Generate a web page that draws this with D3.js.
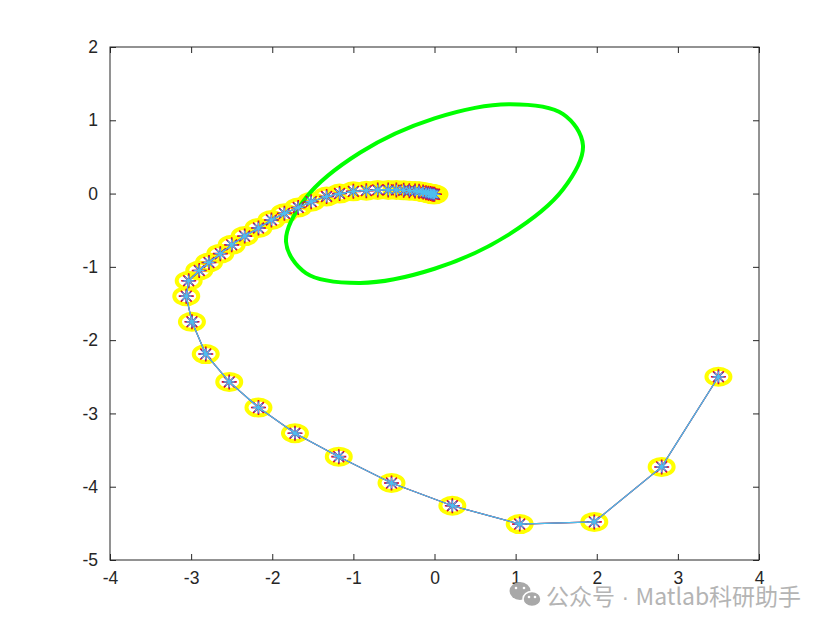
<!DOCTYPE html>
<html>
<head>
  <meta charset="utf-8">
  <title>spiral</title>
  <style>
    body { margin: 0; background: #fff; overflow: hidden; }
    .wm { font-family: "Noto Sans CJK SC", sans-serif; font-size: 23px; fill: #b4b4b4; }
  </style>
</head>
<body>
  <svg id="chart" width="840" height="630"></svg>
  <script src="https://d3js.org/d3.v7.min.js"></script>
  <script>
  // trajectory (outer end first, spiralling in to the origin)
  var trajX = [3.50, 2.80, 1.97, 1.05, 0.22, -0.53, -1.18, -1.72, -2.17, -2.53, -2.82, -2.99, -3.06,
               -3.03, -2.90, -2.78, -2.64, -2.50, -2.34, -2.17, -2.01, -1.85, -1.68, -1.52, -1.33,
               -1.17, -1.00, -0.84, -0.70, -0.57, -0.47, -0.38, -0.31, -0.24, -0.19, -0.14, -0.105,
               -0.075, -0.05, -0.03, -0.015, 0.0];
  var trajY = [-2.50, -3.73, -4.48, -4.51, -4.26, -3.95, -3.59, -3.27, -2.92, -2.57, -2.19, -1.75, -1.40,
               -1.19, -1.05, -0.94, -0.82, -0.70, -0.58, -0.47, -0.36, -0.27, -0.19, -0.11, -0.04,
               0.00, 0.03, 0.04, 0.05, 0.05, 0.05, 0.045, 0.04, 0.035, 0.03, 0.02, 0.012,
               0.005, 0.0, -0.005, -0.01, -0.01];
  // green ellipse outline, points read around it
  var ellX = [1.83, 1.585, 0.915, 0.0, -0.915, -1.585, -1.83, -1.585, -0.915, 0.0, 0.915, 1.585];
  var ellY = [0.659, 1.085, 1.219, 1.026, 0.560, -0.058, -0.659, -1.085, -1.219, -1.026, -0.560, 0.058];
  var xTicks = [-4, -3, -2, -1, 0, 1, 2, 3, 4];
  var yTicks = [-5, -4, -3, -2, -1, 0, 1, 2];
  var seriesColors = ["#D95319", "#7E2F8E", "#4DBEEE"];   // line colours
  var starColors = ["#FF0000", "#6A3FB0", "#4DBEEE"];     // star colours

  var svg = d3.select("#chart");
  var L = 110, R = 759, T = 47, B = 560;
  var x = d3.scaleLinear().domain([-4, 4]).range([L, R]);
  var y = d3.scaleLinear().domain([-5, 2]).range([B, T]);

  var pts = trajX.map(function(v, i) { return [v, trajY[i]]; });
  var ell = ellX.map(function(v, i) { return [v, ellY[i]]; });

  var plot = svg.append("g");

  // yellow 'o' markers
  plot.selectAll("ellipse.ring").data(pts).enter().append("ellipse")
      .attr("class", "ring")
      .attr("cx", function(d) { return x(d[0]); })
      .attr("cy", function(d) { return y(d[1]); })
      .attr("rx", 12).attr("ry", 8)
      .attr("fill", "none").attr("stroke", "#FFFF00").attr("stroke-width", 4);

  // green ellipse
  plot.append("path")
      .datum(ell)
      .attr("d", d3.line().x(function(d) { return x(d[0]); }).y(function(d) { return y(d[1]); })
                   .curve(d3.curveCatmullRomClosed))
      .attr("fill", "none").attr("stroke", "#00FF00").attr("stroke-width", 4);

  // asterisk marker path of half-size s
  function star(s) {
    var q = s * 0.72;
    return "M" + (-s) + ",0H" + s + "M0," + (-s) + "V" + s +
           "M" + (-q) + "," + (-q) + "L" + q + "," + q +
           "M" + (-q) + "," + q + "L" + q + "," + (-q);
  }
  var starSize = [7.5, 6.5, 5];
  var starWidth = [1.6, 1.4, 1.2];
  var line = d3.line().x(function(d) { return x(d[0]); }).y(function(d) { return y(d[1]); });

  seriesColors.forEach(function(c, k) {
    plot.append("path").datum(pts)
        .attr("d", line)
        .attr("fill", "none").attr("stroke", c).attr("stroke-width", 1.2);
    plot.selectAll("path.star" + k).data(pts).enter().append("path")
        .attr("class", "star" + k)
        .attr("transform", function(d) { return "translate(" + x(d[0]) + "," + y(d[1]) + ")"; })
        .attr("d", star(starSize[k]))
        .attr("fill", "none").attr("stroke", starColors[k]).attr("stroke-width", starWidth[k]);
  });

  // box and ticks (MATLAB style, ticks inside on all four sides)
  svg.append("rect").attr("x", L).attr("y", T).attr("width", R - L).attr("height", B - T)
      .attr("fill", "none").attr("stroke", "#262626").attr("stroke-width", 1);

  svg.append("g").attr("class", "lab").attr("transform", "translate(0," + B + ")")
      .call(d3.axisBottom(x).tickValues(xTicks).tickSize(-6).tickPadding(12)
            .tickFormat(function(d) { return String(d); }));
  svg.append("g").attr("transform", "translate(0," + T + ")")
      .call(d3.axisTop(x).tickValues(xTicks).tickSize(-6).tickFormat(function() { return ""; }));
  svg.append("g").attr("class", "lab").attr("transform", "translate(" + L + ",0)")
      .call(d3.axisLeft(y).tickValues(yTicks).tickSize(-6).tickPadding(12)
            .tickFormat(function(d) { return String(d); }));
  svg.append("g").attr("transform", "translate(" + R + ",0)")
      .call(d3.axisRight(y).tickValues(yTicks).tickSize(-6).tickFormat(function() { return ""; }));
  svg.selectAll(".domain").remove();
  svg.selectAll(".tick line").attr("stroke", "#262626");
  svg.selectAll(".lab .tick text")
      .style("font-family", "'Liberation Sans', Arial, sans-serif")
      .style("font-size", "17.5px")
      .attr("fill", "#262626");

  // watermark
  var wm = svg.append("g");
  wm.append("ellipse").attr("cx", 520).attr("cy", 591).attr("rx", 10.5).attr("ry", 9).attr("fill", "#a8a8a8");
  wm.append("ellipse").attr("cx", 532).attr("cy", 599).attr("rx", 9).attr("ry", 7.5)
      .attr("fill", "#a8a8a8").attr("stroke", "#fff").attr("stroke-width", 1.5);
  [[516, 588], [524, 588], [529, 597], [535, 597]].forEach(function(p) {
    wm.append("circle").attr("cx", p[0]).attr("cy", p[1]).attr("r", 1.3).attr("fill", "#fff");
  });
  var wt = wm.append("text").attr("class", "wm").attr("x", 546).attr("y", 605);
  wt.append("tspan").text("公众号");
  wt.append("tspan").style("font-family", "'Liberation Sans', sans-serif").text(" · ");
  wt.append("tspan").text("Matlab科研助手");
  </script>
</body>
</html>
